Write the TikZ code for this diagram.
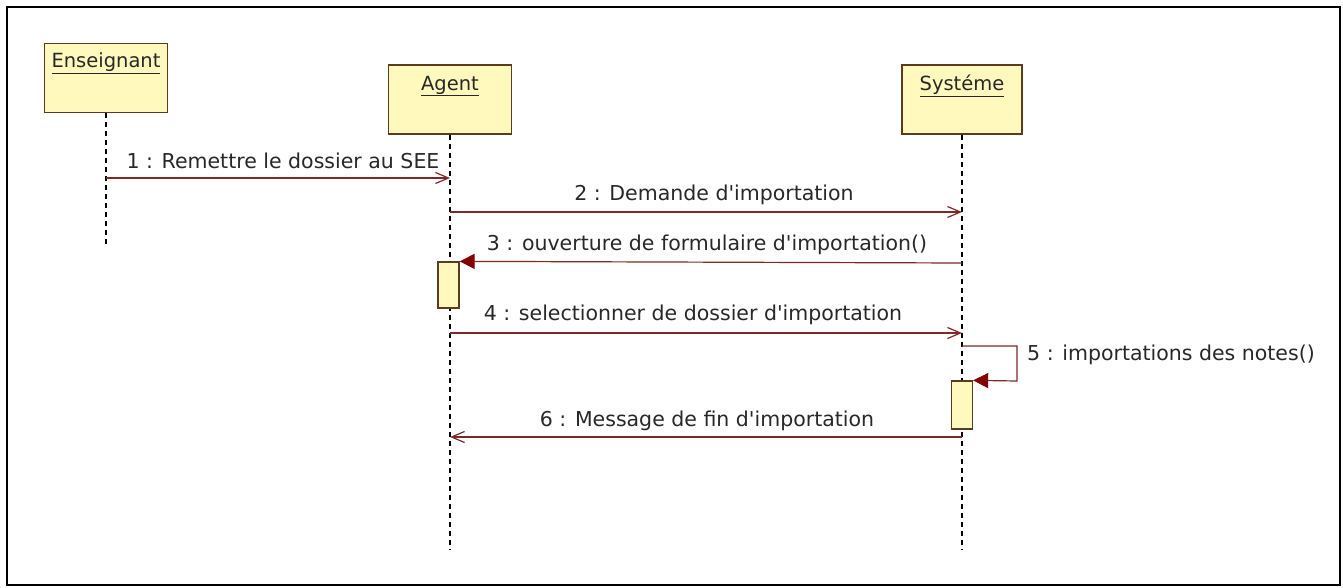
\documentclass[tikz,border=0pt]{standalone}
\usepackage{fontspec}
\setmainfont{DejaVu Sans}[Ligatures=TeXOff]
\usetikzlibrary{arrows.meta}
\definecolor{msgline}{RGB}{128,40,40}
\definecolor{headred}{RGB}{130,0,0}
\definecolor{boxfill}{RGB}{255,249,190}
\definecolor{boxdraw}{RGB}{90,60,30}
\definecolor{txt}{RGB}{40,40,40}
\tikzset{
  x=1pt, y=-1pt,
  objbox/.style={draw=boxdraw, fill=boxfill, line width=1.3pt, minimum width=123pt, minimum height=69pt, inner sep=0pt},
  objname/.style={text=txt, font=\fontsize{19.5}{22}\selectfont, inner sep=0pt},
  actbox/.style={draw=boxdraw, fill=boxfill, line width=1.3pt, minimum width=21pt, inner sep=0pt},
  lifeline/.style={draw=black, line width=1.3pt, dash pattern=on 5pt off 4pt},
  msgopen/.style={draw=msgline, line width=1.2pt, -{Straight Barb[length=13pt,width=11pt,line width=1.2pt]}},
  msgfill/.style={draw=msgline, line width=1.2pt, -{Triangle[length=15pt,width=15pt,color=headred,fill=headred]}},
  msglabel/.style={text=txt, font=\fontsize{20.5}{23}\selectfont, inner sep=0pt},
}
\begin{document}
\begin{tikzpicture}
\useasboundingbox (0,0) rectangle (1343,588);
\draw[line width=2pt] (7,7) rectangle (1340,585);
% objects
\node[objbox] (ens) at (106,78) {};
\node[objbox] (agt) at (450,99.5) {};
\node[objbox, minimum width=120pt] (sys) at (962,99.5) {};
\node[objname] (ens-t) at (106,63) {\underline{Enseignant}};
\node[objname] (agt-t) at (450,86) {\underline{Agent}};
\node[objname] (sys-t) at (962,86) {\underline{Systéme}};
% lifelines
\coordinate (ens-end) at (106,245);
\coordinate (agt-end) at (450,550);
\coordinate (sys-end) at (962,550);
\draw[lifeline] (ens.south) -- (ens-end);
\draw[lifeline] (agt.south) -- (agt-end);
\draw[lifeline] (sys.south) -- (sys-end);
% activations
\node[actbox, minimum height=46pt] (act1) at (448.5,285) {};
\node[actbox, minimum height=48pt] (act2) at (962,405) {};
% message points
\coordinate (m1s) at (106,178); \coordinate (m1e) at (450,178);
\coordinate (m2s) at (450,212); \coordinate (m2e) at (962,212);
\coordinate (m3s) at (962,263);
\coordinate (m4s) at (450,333); \coordinate (m4e) at (962,333);
\coordinate (m5s) at (962,346); \coordinate (m5a) at (1017,346); \coordinate (m5b) at (1017,381);
\coordinate (m6s) at (962,437); \coordinate (m6e) at (450,437);
\draw[msgopen] (m1s) -- (m1e);
\draw[msgopen] (m2s) -- (m2e);
\draw[msgfill] (m3s) -- (act1.north east);
\draw[msgopen] (m4s) -- (m4e);
\draw[msgfill] (m5s) -- (m5a) -- (m5b) -- (act2.north east);
\draw[msgopen] (m6s) -- (m6e);
% labels
\node[msglabel] (l1) at (283,161) {1 : Remettre le dossier au SEE};
\node[msglabel] (l2) at (714,195) {2 : Demande d'importation};
\node[msglabel] (l3) at (707,245) {3 : ouverture de formulaire d'importation()};
\node[msglabel] (l4) at (693,315) {4 : selectionner de dossier d'importation};
\node[msglabel, anchor=west] (l5) at (1027,355) {5 : importations des notes()};
\node[msglabel] (l6) at (707,421) {6 : Message de fin d'importation};
\end{tikzpicture}
\end{document}
